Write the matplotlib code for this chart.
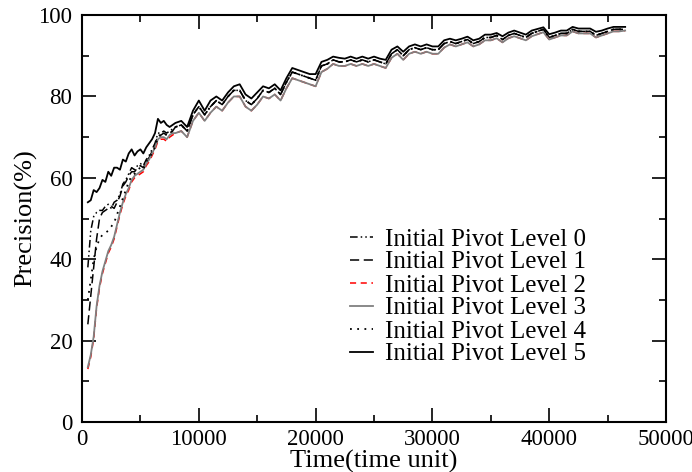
import numpy as np
import matplotlib.pyplot as plt
from matplotlib.ticker import MultipleLocator

plt.rcParams['font.family'] = ['Liberation Serif', 'DejaVu Serif']
plt.rcParams['font.size'] = 16.5

# time grid: finer at the start, every 500 time units afterwards
t_early = np.arange(500, 8000, 250)
t_late = np.arange(8000, 47000, 500)

# early part, read per level (t = 500 .. 7750)
early_0 = [38, 47, 50.5, 51.5, 52, 52, 53, 53.5, 52.5, 54,
           54.5, 56, 58.5, 59.5, 61, 62.5, 62, 63, 63.5, 63,
           64.5, 65.5, 67, 68.5, 71, 71, 71.5, 71, 71.5, 72]
early_1 = [24, 31, 38, 45, 50, 51.5, 52, 52.5, 53, 52.5,
           54, 55.5, 58, 59, 60.5, 61.5, 61.5, 62.5, 63, 62.5,
           64, 65, 66.5, 68, 70.5, 70.5, 71, 70.5, 71, 71.5]
early_2 = [13, 16, 20.5, 28, 33, 36.5, 39, 41.5, 43, 45,
           48, 51, 53.5, 55.5, 57, 59, 60, 60.5, 61, 61.5,
           63, 64, 65.5, 67, 69, 69.5, 69.5, 69, 70, 70.5]
early_3 = [13.5, 16.5, 21, 28.5, 33.5, 37, 39.5, 42, 43.5, 45.5,
           48.5, 51.5, 54, 56, 57.5, 59.5, 60.5, 61, 61.5, 62,
           63.5, 64.5, 66, 67.5, 69.5, 70, 70, 69.5, 70.5, 71]
early_4 = [30, 35, 40, 43, 45, 46, 46.5, 47, 48, 49,
           51, 53, 55, 57, 59, 60.5, 61, 62, 62.5, 62,
           64, 65, 66, 67.5, 70, 70.5, 71, 70.5, 71, 71.5]
early_5 = [54, 54.5, 57, 56.5, 57.5, 59.5, 59, 61.5, 60.5, 62.5,
           62.5, 62, 64.5, 64, 66, 67, 65.5, 66.5, 67, 66,
           67.5, 68.5, 69.5, 71, 74.5, 73.5, 74, 73, 72.5, 73]

# late part (t = 8000 .. 46500), the lines mostly overlap
late_mid = [72.5, 73, 71.5, 75.5, 77.5, 75.5, 77.5, 79, 78, 80,
            81.5, 81.5, 79, 78, 79.5, 81.5, 81, 82, 80.5, 83.5,
            86, 85.5, 85, 84.5, 84, 87.5, 88, 89, 88.5, 88.5,
            89, 88.5, 89, 88.5, 89, 88.5, 88, 90.5, 91.5, 90,
            91.5, 92, 91.5, 92, 91.5, 91.5, 93, 93.5, 93, 93.5,
            94, 93, 93.5, 94.5, 94.5, 95, 94, 95, 95.5, 95,
            94.5, 95.5, 96, 96.5, 94.5, 95, 95.5, 95.5, 96.5, 96,
            96, 96, 95, 95.5, 96, 96.5, 96.5, 96.5]
late_top = [73.5, 74, 72.5, 76.5, 79, 76.5, 79, 80, 79, 81,
            82.5, 83, 80.5, 79.5, 81, 82.5, 82, 83, 81.5, 84.5,
            87, 86.5, 86, 85.5, 85.5, 88.5, 89, 89.8, 89.5, 89.3,
            89.8, 89.3, 89.8, 89.3, 89.8, 89.3, 89, 91.5, 92.3, 91,
            92.3, 92.8, 92.3, 92.8, 92.3, 92.3, 93.8, 94.2, 93.8, 94.2,
            94.7, 93.8, 94.2, 95.2, 95.2, 95.6, 94.8, 95.7, 96.2, 95.7,
            95.2, 96.2, 96.6, 97, 95.3, 95.7, 96.2, 96.2, 97.1, 96.7,
            96.7, 96.7, 95.9, 96.2, 96.7, 97.1, 97.1, 97.1]
late_low = [71, 71.5, 70, 74, 76, 74, 76, 77.5, 76.5, 78.5,
            80, 80, 77.5, 76.5, 78, 80, 79.5, 80.5, 79, 82,
            84.5, 84, 83.5, 83, 82.5, 86, 86.8, 88, 87.5, 87.5,
            88, 87.5, 88, 87.5, 88, 87.5, 87, 89.5, 90.5, 89,
            90.5, 91, 90.5, 91, 90.5, 90.5, 92, 92.8, 92.3, 92.8,
            93.3, 92.3, 92.8, 93.8, 93.8, 94.3, 93.3, 94.3, 94.8, 94.3,
            93.8, 94.8, 95.3, 95.8, 94, 94.5, 95, 95, 96, 95.5,
            95.5, 95.5, 94.5, 95, 95.5, 96, 96, 96.2]

t = np.concatenate([t_early, t_late])
levels = {
    "Initial Pivot Level 0": early_0 + late_mid,
    "Initial Pivot Level 1": early_1 + late_mid,
    "Initial Pivot Level 2": early_2 + late_low,
    "Initial Pivot Level 3": early_3 + late_low,
    "Initial Pivot Level 4": early_4 + late_mid,
    "Initial Pivot Level 5": early_5 + late_top,
}
styles = [
    dict(color='black', linestyle=(0, (5, 2, 1, 2, 1, 2)), lw=1.1),
    dict(color='black', linestyle=(0, (6, 3)), lw=1.1),
    dict(color='red', linestyle=(0, (4, 3)), lw=1.1),
    dict(color='#808080', linestyle='-', lw=1.3),
    dict(color='black', linestyle=(0, (1, 3)), lw=1.3),
    dict(color='black', linestyle='-', lw=1.3),
]

fig = plt.figure(figsize=(6.92, 4.72), dpi=100)
ax = fig.add_axes([0.1185, 0.106, 0.844, 0.862])

for (name, vals), st in zip(levels.items(), styles):
    ax.plot(t, vals, label=name, **st)

ax.set_xlim(0, 50000)
ax.set_ylim(0, 100)
ax.xaxis.set_major_locator(MultipleLocator(10000))
ax.xaxis.set_minor_locator(MultipleLocator(5000))
ax.yaxis.set_major_locator(MultipleLocator(20))
ax.yaxis.set_minor_locator(MultipleLocator(10))
ax.tick_params(which='both', direction='in', top=True, right=True, width=1.2)
ax.tick_params(which='major', length=10)
ax.tick_params(which='minor', length=5)
ax.tick_params(axis='x', pad=5)
ax.tick_params(axis='y', pad=7)
for sp in ax.spines.values():
    sp.set_linewidth(1.5)

ax.set_xlabel("Time(time unit)", fontsize=19, labelpad=0)
ax.set_ylabel("Precision(%)", fontsize=19, labelpad=0.5)

ax.legend(loc='upper left', bbox_to_anchor=(350 / 692, 1 - 228 / 472),
          bbox_transform=fig.transFigure, frameon=False, fontsize=18,
          borderpad=0, borderaxespad=0, handlelength=0.9,
          handletextpad=0.5, labelspacing=0.02)

fig.savefig("out.png", dpi=100)
